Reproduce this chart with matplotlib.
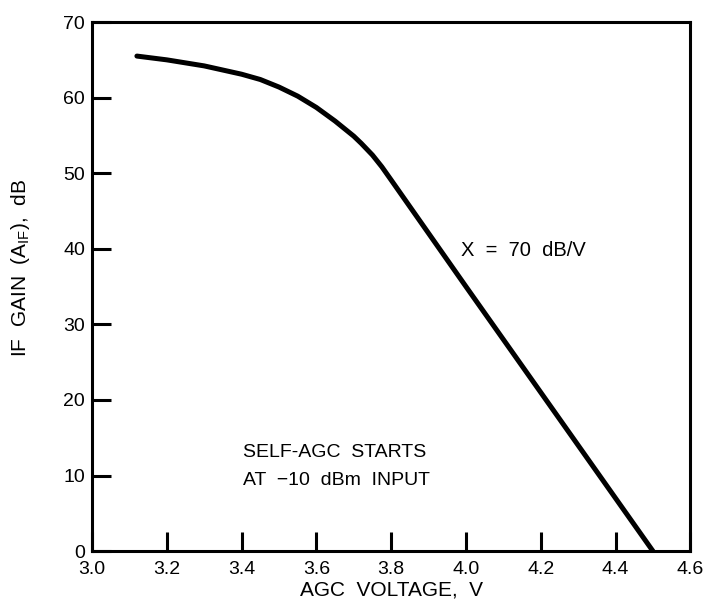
import numpy as np
import matplotlib.pyplot as plt

plt.rcParams['font.family'] = ['Liberation Sans', 'DejaVu Sans']

# curve
agc_v = [3.12, 3.2, 3.3, 3.4, 3.45, 3.5, 3.55, 3.6, 3.65, 3.7, 3.72, 3.75, 3.775, 3.8, 4.0, 4.2, 4.4, 4.5]
gain_db = [65.5, 65.0, 64.2, 63.1, 62.4, 61.4, 60.2, 58.7, 56.9, 54.9, 53.95, 52.4, 50.85, 49.1, 35.0, 21.0, 7.0, 0.0]

x_ticks = [3.0, 3.2, 3.4, 3.6, 3.8, 4.0, 4.2, 4.4, 4.6]
y_ticks = [0, 10, 20, 30, 40, 50, 60, 70]

fig = plt.figure(figsize=(7.08, 6.13), dpi=100)
ax = fig.add_axes([0.130, 0.101, 0.845, 0.863])

ax.plot(agc_v, gain_db, color='black', lw=3.6, solid_capstyle='round', solid_joinstyle='round')

ax.set_xlim(3.0, 4.6)
ax.set_ylim(0, 70)
ax.set_xticks(x_ticks)
ax.set_xticklabels(["%.1f" % v for v in x_ticks])
ax.set_yticks(y_ticks)
ax.tick_params(direction='in', length=14, width=2.2, labelsize=14, pad=5)
ax.tick_params(axis='x', pad=7)
for s in ax.spines.values():
    s.set_linewidth(2.2)

ax.set_xlabel("AGC  VOLTAGE,  V", fontsize=15, labelpad=2)
ax.set_ylabel("IF  GAIN  (A$_{\\mathregular{IF}}$),  dB", fontsize=15)
ax.yaxis.set_label_coords(-0.1, 0.535)

ax.text(3.987, 39.8, "X  =  70  dB/V", fontsize=14.5, va='center', ha='left')
ax.text(3.405, 13.1, "SELF-AGC  STARTS", fontsize=14, va='center', ha='left')
ax.text(3.405, 9.4, "AT  \u221210  dBm  INPUT", fontsize=14, va='center', ha='left')

fig.savefig("out.png", dpi=100)
